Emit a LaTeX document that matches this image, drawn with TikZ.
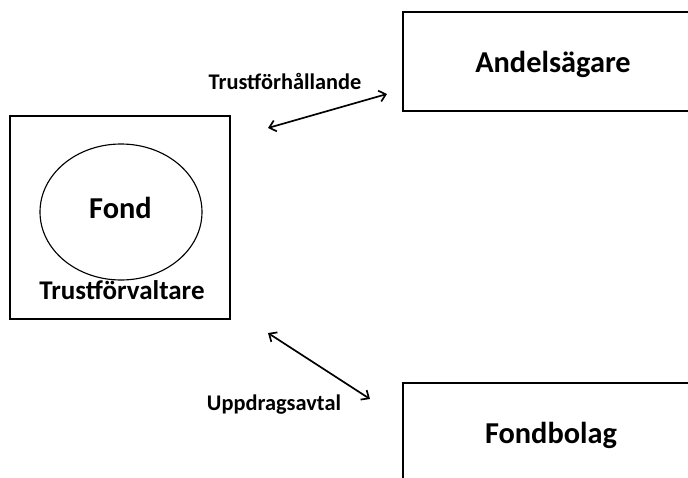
\documentclass[tikz,border=0pt]{standalone}
\usepackage{fontspec}
\setmainfont{Carlito}
\usetikzlibrary{arrows.meta}

\begin{document}
\begin{tikzpicture}[
  boxline/.style={line width=0.9pt},
  relarrow/.style={line width=1.2pt,{Straight Barb[length=4.5pt,width=8pt]}-{Straight Barb[length=4.5pt,width=8pt]}},
  bigtext/.style={font=\fontsize{21.6}{25}\selectfont\bfseries,anchor=base,inner sep=0pt},
  midtext/.style={font=\fontsize{19.2}{23}\selectfont\bfseries,anchor=base,inner sep=0pt},
  smalltext/.style={font=\fontsize{15.9}{19}\selectfont\bfseries,anchor=base,inner sep=0pt}]
\clip (0.000,0.000) rectangle (17.200,-11.950);
% trustforvaltare med fonden
\draw[boxline] (0.250,-2.900) rectangle (5.750,-7.975);
\draw[line width=0.8pt] (3.025,-5.300) ellipse (2.025 and 1.700);
\node[bigtext] (fond) at (3.012,-5.450) {Fond};
\node[midtext] (forvaltare) at (3.050,-7.475) {Trustförvaltare};
% andelsagare och fondbolag
\draw[boxline] (10.075,-0.300) rectangle (17.375,-2.775);
\node[bigtext] (andel) at (13.825,-1.800) {Andelsägare};
\draw[boxline] (10.075,-9.575) rectangle (17.375,-12.250);
\node[bigtext] (bolag) at (13.775,-11.075) {Fondbolag};
% relationer
\coordinate (trustA) at (6.700,-3.200);
\coordinate (trustB) at (9.675,-2.350);
\draw[relarrow] (trustA) -- (trustB);
\node[smalltext] (trustrel) at (7.125,-2.225) {Trustförhållande};
\coordinate (uppdA) at (6.700,-8.325);
\coordinate (uppdB) at (9.250,-9.975);
\draw[relarrow] (uppdA) -- (uppdB);
\node[smalltext] (uppdrel) at (6.850,-10.250) {Uppdragsavtal};
\end{tikzpicture}
\end{document}
